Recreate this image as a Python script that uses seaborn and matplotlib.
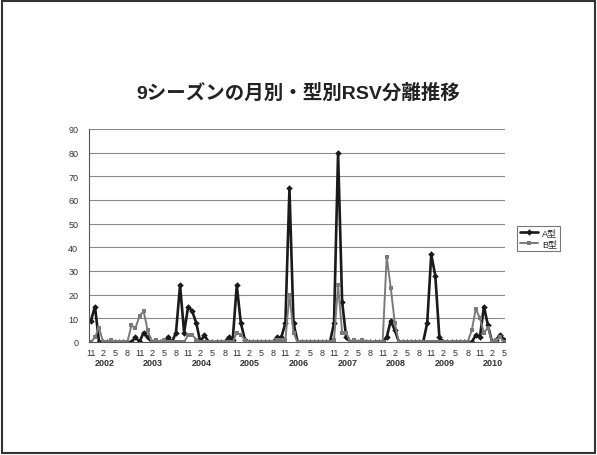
import seaborn as sns
import numpy as np
import pandas as pd
import matplotlib
matplotlib.use("Agg")
import matplotlib.pyplot as plt
from matplotlib.patches import Rectangle
import matplotlib.transforms as mtransforms

# monthly RSV isolations, Nov 2001 .. May 2010 (one season = Nov..Oct)
a_type = [9, 15, 0, 0, 0, 0, 0, 0, 0, 0, 0, 2,
          0, 4, 2, 0, 0, 0, 0, 2, 0, 4, 24, 4,
          15, 13, 8, 0, 3, 0, 0, 0, 0, 0, 2, 1,
          24, 8, 1, 0, 0, 0, 0, 0, 0, 0, 2, 2,
          8, 65, 8, 0, 0, 0, 0, 0, 0, 0, 0, 0,
          8, 80, 17, 2, 0, 0, 0, 0, 0, 0, 0, 0,
          0, 2, 9, 5, 0, 0, 0, 0, 0, 0, 0, 8,
          37, 28, 2, 0, 0, 0, 0, 0, 0, 0, 0, 3,
          2, 15, 7, 0, 1, 3, 1]
b_type = [0, 2, 6, 0, 0, 1, 0, 0, 0, 0, 7, 6,
          11, 13, 5, 0, 1, 0, 1, 0, 0, 0, 0, 0,
          3, 3, 1, 0, 0, 0, 0, 0, 0, 0, 0, 0,
          4, 3, 1, 0, 0, 0, 0, 0, 0, 0, 1, 1,
          1, 20, 4, 0, 0, 0, 0, 0, 0, 0, 0, 0,
          1, 24, 4, 4, 0, 1, 0, 1, 0, 0, 0, 0,
          0, 36, 23, 8, 0, 0, 0, 0, 0, 0, 0, 0,
          0, 0, 0, 0, 0, 0, 0, 0, 0, 0, 5, 14,
          10, 4, 6, 0, 1, 2, 0]
month_labels = ["11", "2", "5", "8"]
years = ["2002", "2003", "2004", "2005", "2006", "2007", "2008", "2009", "2010"]
title = "9シーズンの月別・型別RSV分離推移"

df = pd.DataFrame({"idx": np.arange(len(a_type)), "A型": a_type, "B型": b_type})

sns.set_style("white")
plt.rcParams['font.family'] = ['Liberation Sans', 'Noto Sans CJK JP', 'DejaVu Sans']

fig = plt.figure(figsize=(5.97, 4.56), dpi=100)
ax = fig.add_axes([89.3 / 597, 1 - 343 / 456, (505 - 89.3) / 597, 213 / 456])

sns.lineplot(data=df, x="idx", y="A型", ax=ax, color="#1a1a1a", lw=1.9,
             marker="D", markersize=3.3, markeredgewidth=0, label="A型")
sns.lineplot(data=df, x="idx", y="B型", ax=ax, color="#7a7a7a", lw=1.4,
             marker="s", markersize=3.3, markeredgewidth=0, label="B型")

ax.set_xlim(-0.4, 102.2)
ax.set_ylim(0, 90)
ax.set_yticks(range(0, 91, 10))
ax.yaxis.grid(True, color="#8a8a8a", lw=0.8)
ax.set_axisbelow(True)
ax.tick_params(axis="y", labelsize=6.5, length=2, pad=6, colors="#333")
for s in ["top", "right"]:
    ax.spines[s].set_visible(False)
ax.spines["left"].set_color("#555")
ax.spines["bottom"].set_color("#555")

ticks = list(range(0, len(a_type), 3))
ax.set_xticks(ticks)
ax.set_xticklabels([month_labels[i % 4] for i in range(len(ticks))])
ax.tick_params(axis="x", labelsize=6.5, length=0, pad=4, colors="#333")
ax.set_xlabel("")
ax.set_ylabel("")

trans = mtransforms.blended_transform_factory(ax.transData, ax.transAxes)
for k, y in enumerate(years):
    ax.text(3.3 + 12 * k, -0.095, y, transform=trans, ha="center", va="center",
            fontsize=6.5, fontweight="bold", color="#333")

leg = ax.legend(loc="center left", bbox_to_anchor=(1.018, 0.486), fontsize=6.5,
                frameon=True, fancybox=False, edgecolor="#555", handlelength=2.0,
                borderpad=0.3, labelspacing=0.2, handletextpad=0.5)
leg.get_frame().set_linewidth(0.8)

fig.text(0.5, 1 - 93 / 456, title, ha="center", va="center", fontsize=14,
         fontweight="bold", color="#222")

fig.patches.append(Rectangle((0.003, 0.004), 0.994, 0.992, transform=fig.transFigure,
                             fill=False, edgecolor="#333", lw=1.5))

fig.savefig("out.png", dpi=100)
